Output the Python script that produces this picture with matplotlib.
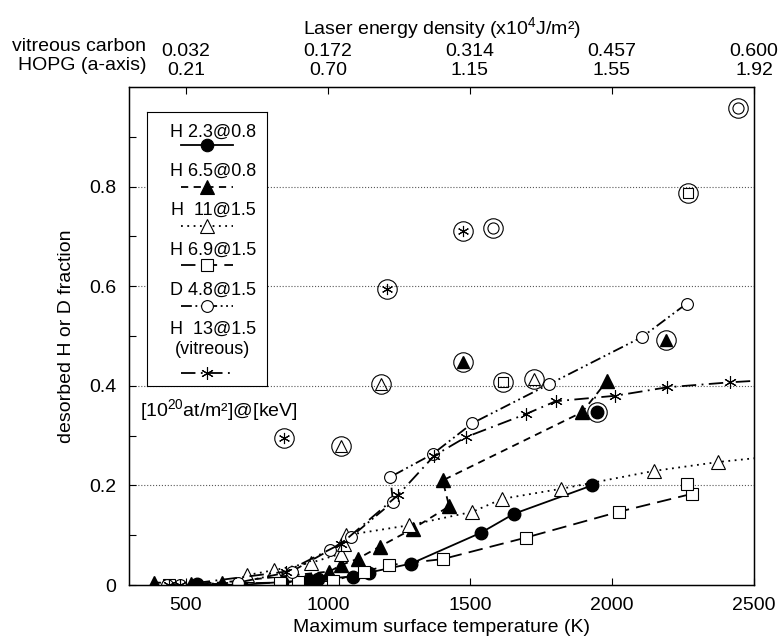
import matplotlib
matplotlib.use('Agg')
import matplotlib.pyplot as plt

plt.rcParams['font.family'] = ['Liberation Sans', 'DejaVu Sans']
plt.rcParams['font.size'] = 14
plt.rcParams['mathtext.default'] = 'regular'

# --- data (max surface temperature K, desorbed fraction) ---
t_h23 = [539, 689, 837, 935, 967, 1088, 1145, 1293, 1539, 1655, 1930]
f_h23 = [0.002, 0.0, 0.006, 0.01, 0.012, 0.017, 0.025, 0.043, 0.105, 0.143, 0.2]

t_h65 = [387, 518, 626, 1005, 1047, 1106, 1182, 1299, 1427, 1404, 1895, 1983]
f_h65 = [0.005, 0.003, 0.005, 0.027, 0.04, 0.053, 0.077, 0.113, 0.158, 0.21, 0.347, 0.41]

t_h11 = [717, 812, 942, 1047, 1058, 1065, 1286, 1509, 1614, 1819, 2147, 2375, 2560]
f_h11 = [0.02, 0.03, 0.045, 0.063, 0.083, 0.1, 0.12, 0.147, 0.173, 0.193, 0.229, 0.247, 0.258]

t_h69 = [440, 830, 896, 1018, 1128, 1216, 1404, 1696, 2024, 2281, 2263]
f_h69 = [0.0, 0.005, 0.007, 0.008, 0.027, 0.04, 0.052, 0.095, 0.147, 0.183, 0.202]

t_d48 = [433, 479, 685, 872, 1006, 1082, 1229, 1220, 1369, 1509, 1778, 2106, 2263]
f_d48 = [0.0, 0.0, 0.005, 0.027, 0.07, 0.097, 0.167, 0.217, 0.263, 0.325, 0.403, 0.498, 0.565]

t_h13 = [440, 480, 854, 1047, 1246, 1375, 1486, 1696, 1802, 2012, 2194, 2416, 2560]
f_h13 = [0.0, 0.0, 0.027, 0.083, 0.18, 0.26, 0.297, 0.343, 0.369, 0.38, 0.397, 0.407, 0.412]

# circled single points
ring_star_t = [846, 1207, 1477]
ring_star_f = [0.295, 0.595, 0.71]
ring_otri_t = [1045, 1188, 1726]
ring_otri_f = [0.28, 0.403, 0.413]
ring_ftri_t = [1474, 2190]
ring_ftri_f = [0.447, 0.491]
ring_sq_t = [1615, 2267]
ring_sq_f = [0.407, 0.788]
ring_circ_t = [1582, 2445]
ring_circ_f = [0.717, 0.958]
ring_dot_t = [1948]
ring_dot_f = [0.347]

temp_ticks = [500, 1000, 1500, 2000, 2500]
vc_labels = ['0.032', '0.172', '0.314', '0.457', '0.600']
hopg_labels = ['0.21', '0.70', '1.15', '1.55', '1.92']

legend_labels = ['H 2.3@0.8', 'H 6.5@0.8', 'H  11@1.5', 'H 6.9@1.5', 'D 4.8@1.5', 'H  13@1.5\n(vitreous)']

star = (6, 2, 0)
styles = [
    dict(ls='-', marker='o', ms=9, mfc='k', mec='k'),
    dict(ls=(0, (4, 3)), marker='^', ms=10, mfc='k', mec='k'),
    dict(ls=(0, (1, 2.5)), marker='^', ms=10.5, mfc='white', mec='k', mew=0.8),
    dict(ls=(0, (8, 4)), marker='s', ms=8.5, mfc='white', mec='k', mew=0.8),
    dict(ls=(0, (6, 2, 1, 2, 1, 2)), marker='o', ms=8.5, mfc='white', mec='k', mew=0.8),
    dict(ls=(0, (8, 3, 1, 3)), marker=star, ms=9, mfc='k', mec='k', mew=0.8),
]
series = [(t_h23, f_h23), (t_h65, f_h65), (t_h11, f_h11),
          (t_h69, f_h69), (t_d48, f_d48), (t_h13, f_h13)]

fig = plt.figure(figsize=(7.82, 6.39), dpi=100)
ax = fig.add_axes([129/782, 54/639, 625/782, 498/639])

for y in [0.2, 0.4, 0.6, 0.8]:
    ax.axhline(y, color='0.35', ls=':', lw=0.8, zorder=0)

for (t, f), st in zip(series, styles):
    ax.plot(t, f, color='k', lw=1.3, **st)

ring = dict(ls='none', marker='o', ms=14, mfc='none', mec='k', mew=0.8, color='k')
ax.plot(ring_star_t, ring_star_f, ls='none', marker=star, ms=8, mec='k', mew=0.8)
ax.plot(ring_star_t, ring_star_f, **ring)
ax.plot(ring_otri_t, ring_otri_f, ls='none', marker='^', ms=8, mfc='none', mec='k', mew=0.8)
ax.plot(ring_otri_t, ring_otri_f, **ring)
ax.plot(ring_ftri_t, ring_ftri_f, ls='none', marker='^', ms=8.5, mfc='k', mec='k')
ax.plot(ring_ftri_t, ring_ftri_f, **ring)
ax.plot(ring_sq_t, ring_sq_f, ls='none', marker='s', ms=7.5, mfc='none', mec='k', mew=0.8)
ax.plot(ring_sq_t, ring_sq_f, **ring)
ax.plot(ring_circ_t, ring_circ_f, ls='none', marker='o', ms=8, mfc='none', mec='k', mew=0.8)
ax.plot(ring_circ_t, ring_circ_f, **ring)
ax.plot(ring_dot_t, ring_dot_f, ls='none', marker='o', ms=9, mfc='k', mec='k')
ax.plot(ring_dot_t, ring_dot_f, **ring)

ax.set_xlim(300, 2500)
ax.set_ylim(0, 1.0)
ax.set_xticks(temp_ticks)
ax.set_yticks([0, 0.2, 0.4, 0.6, 0.8])
ax.set_yticklabels(['0', '0.2', '0.4', '0.6', '0.8'])
ax.set_yticks([0.1, 0.3, 0.5, 0.7, 0.9], minor=True)
ax.tick_params(which='both', direction='in', length=5, width=0.8, pad=9)
ax.set_xlabel('Maximum surface temperature (K)', labelpad=3)
ax.set_ylabel('desorbed H or D fraction', labelpad=10)
for s in ax.spines.values():
    s.set_linewidth(1.0)

top = ax.twiny()
top.set_xlim(ax.get_xlim())
top.set_xticks(temp_ticks)
top.set_xticklabels([a + '\n' + b for a, b in zip(vc_labels, hopg_labels)], linespacing=1.15)
top.tick_params(direction='in', length=5, width=0.8, pad=6)
top.set_xlabel('Laser energy density (x10$^4$J/m²)', labelpad=6)
fig.text(146/782, 1 - 56/639, 'vitreous carbon\nHOPG (a-axis)', ha='right', va='center',
         linespacing=1.15, fontsize=14)

# hand-made legend box
lax = fig.add_axes([147/782, (639-386)/639, 120/782, 274/639])
lax.set_xlim(0, 1)
lax.set_ylim(0, 1)
lax.set_xticks([])
lax.set_yticks([])
text_y = [0.925, 0.782, 0.64, 0.494, 0.349, 0.17]
line_y = [0.878, 0.726, 0.584, 0.442, 0.292, 0.047]
for lab, ty, ly, st in zip(legend_labels, text_y, line_y, styles):
    lax.text(0.55, ty, lab, ha='center', va='center', fontsize=13, linespacing=1.3)
    st2 = dict(st)
    mk = {k: st2.pop(k) for k in ['marker', 'ms', 'mfc', 'mec'] if k in st2}
    st2.pop('mew', None)
    lax.plot([0.28, 0.72], [ly, ly], color='k', lw=1.3, ls=st2['ls'])
    lax.plot([0.5], [ly], ls='none', marker=mk['marker'], ms=mk['ms'], mfc=mk['mfc'],
             mec=mk['mec'], mew=0.8)

fig.text(140/782, 1 - 410/639, '[10$^{20}$at/m²]@[keV]', ha='left', va='center', fontsize=14)

fig.savefig('out.png', dpi=100)
